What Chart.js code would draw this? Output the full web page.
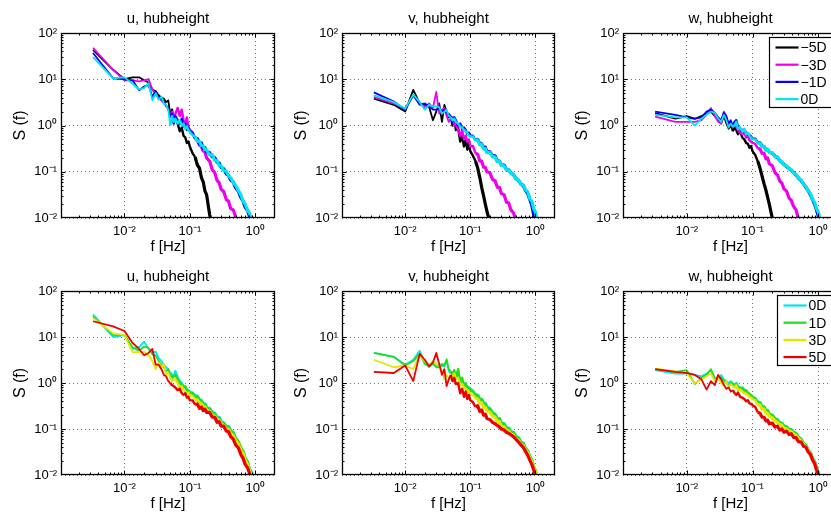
<!DOCTYPE html>
<html>
<head>
<meta charset="utf-8">
<script src="https://cdn.jsdelivr.net/npm/chart.js@4.4.0/dist/chart.umd.min.js"></script>
<style>
html, body { margin: 0; padding: 0; background: #fff; overflow: hidden; width: 831px; height: 513px; position: relative; }
canvas { position: absolute; }
</style>
</head>
<body>
<script>
// frequency axis shared by every spectrum [Hz]
const freq = [0.0033, 0.0067, 0.010, 0.0133, 0.0167, 0.020, 0.0233, 0.0267, 0.030, 0.0333, 0.0367, 0.040,
  0.0433, 0.0467, 0.050, 0.0533, 0.0567, 0.060, 0.065, 0.070, 0.075, 0.080, 0.085, 0.090, 0.095, 0.10,
  0.11, 0.12, 0.13, 0.14, 0.15, 0.16, 0.17, 0.18, 0.20, 0.22, 0.24, 0.26, 0.28, 0.30,
  0.33, 0.36, 0.39, 0.42, 0.46, 0.50, 0.55, 0.60, 0.65, 0.70, 0.76, 0.82, 0.88, 0.94, 1.0, 1.07];

const N = null;

// u, upstream
const uM5 = [43, 16, 10, 11, 11, 9.5, 8.5, 6, 5.5, 4.5, 4, 3.8,
  3.2, 3.5, 1.8, 2.2, 1.2, 1.5, 1.1, 0.75, 0.9, 0.6, 0.55, 0.42, 0.45, 0.35,
  0.25, 0.21, 0.14, 0.12, 0.075, 0.06, 0.038, 0.032, 0.012, 0.007, 0.004, N, N, N,
  N, N, N, N, N, N, N, N, N, N, N, N, N, N, N, N];
const uM3 = [48, 16, 9.5, 9.5, 9, 9.5, 10, 6, 4.5, 4, 3.5, 3,
  2.8, 2.2, 1.6, 2, 1.4, 1.8, 2.4, 1.6, 2.2, 1.3, 1.1, 1.5, 0.9, 0.8,
  0.72, 0.52, 0.47, 0.38, 0.35, 0.28, 0.27, 0.2, 0.17, 0.11, 0.095, 0.065, 0.058, 0.042,
  0.037, 0.025, 0.023, 0.016, 0.015, 0.0105, 0.0085, 0.006, N, N, N, N, N, N, N, N];
const uM1 = [37, 10.5, 10, 9.5, 5.8, 7, 7.5, 4.2, 5.5, 4, 3.8, 3.2,
  2.6, 2.4, 1.5, 1.8, 1.1, 1.6, 1.3, 1.1, 1.4, 0.95, 1.1, 0.8, 0.9, 0.75,
  0.68, 0.52, 0.52, 0.4, 0.42, 0.32, 0.33, 0.27, 0.26, 0.21, 0.2, 0.16, 0.155, 0.125,
  0.115, 0.09, 0.083, 0.066, 0.06, 0.045, 0.038, 0.028, 0.023, 0.017, 0.0145, 0.0105, 0.0105, 0.0075, N, N];
const u0a = [30, 10.5, 11, 8, 6, 6.5, 8.2, 3.5, 5, 3.6, 4.2, 3,
  2.8, 2.2, 1.0, 1.6, 1.2, 1.4, 1.1, 1.3, 1.0, 1.1, 0.85, 0.95, 0.8, 0.72,
  0.62, 0.58, 0.46, 0.45, 0.37, 0.36, 0.3, 0.3, 0.23, 0.235, 0.175, 0.175, 0.135, 0.135,
  0.105, 0.102, 0.082, 0.074, 0.058, 0.051, 0.039, 0.032, 0.023, 0.02, 0.0145, 0.0125, 0.0095, 0.008, N, N];

// v, upstream
const vM5 = [3.8, 2.8, 2.0, 5.9, 3.0, 2.8, 2.5, 1.3, 2.0, 3.0, 1.2, 2.8,
  2.0, 1.5, 1.6, 1.0, 1.4, 0.8, 0.9, 0.45, 0.6, 0.35, 0.5, 0.3, 0.45, 0.28,
  0.22, 0.17, 0.12, 0.075, 0.045, 0.03, 0.02, 0.014, 0.008, N, N, N, N, N,
  N, N, N, N, N, N, N, N, N, N, N, N, N, N, N, N];
const vM3 = [4.1, 3.0, 2.3, 4.5, 3.0, 2.5, 3.0, 2.4, 5.3, 1.8, 2.2, 2.4,
  1.6, 1.2, 1.4, 1.5, 1.0, 1.1, 0.8, 0.6, 0.8, 0.5, 0.6, 0.45, 0.5, 0.35,
  0.36, 0.25, 0.24, 0.17, 0.17, 0.125, 0.125, 0.1, 0.095, 0.068, 0.064, 0.046, 0.046, 0.034,
  0.032, 0.022, 0.021, 0.015, 0.013, 0.0092, 0.007, N, N, N, N, N, N, N, N, N];
const vM1 = [5.2, 3.3, 2.2, 4.5, 2.8, 3.0, 2.6, 2.2, 2.2, 2.4, 2.0, 2.2,
  1.9, 1.8, 1.6, 1.2, 1.5, 1.3, 1.0, 1.1, 0.85, 0.9, 0.8, 0.65, 0.7, 0.6,
  0.6, 0.48, 0.5, 0.4, 0.4, 0.33, 0.34, 0.27, 0.27, 0.22, 0.22, 0.17, 0.17, 0.14,
  0.14, 0.11, 0.11, 0.094, 0.087, 0.072, 0.065, 0.054, 0.05, 0.04, 0.034, 0.025, 0.019, 0.012, 0.008, N];
const v0a = [4.5, 3.2, 2.3, 4.7, 3.2, 2.2, 2.8, 2.6, 2.6, 2.5, 1.8, 2.0,
  2.2, 1.6, 1.5, 1.3, 1.4, 1.2, 1.1, 0.95, 0.9, 0.8, 0.75, 0.7, 0.6, 0.58,
  0.58, 0.47, 0.49, 0.38, 0.39, 0.31, 0.32, 0.26, 0.26, 0.21, 0.21, 0.165, 0.17, 0.14,
  0.135, 0.11, 0.11, 0.092, 0.088, 0.07, 0.067, 0.053, 0.052, 0.041, 0.037, 0.026, 0.023, 0.016, 0.0135, 0.009];

// w, upstream
const wM5 = [1.85, 1.4, 1.6, 1.4, 1.6, 1.8, 2.0, 1.6, 1.3, 1.1, 1.6, 1.1,
  0.85, 1.0, 0.75, 0.9, 0.8, 0.65, 0.75, 0.55, 0.5, 0.42, 0.4, 0.33, 0.36, 0.28,
  0.23, 0.17, 0.12, 0.08, 0.055, 0.04, 0.028, 0.02, 0.01, 0.006, N, N, N, N,
  N, N, N, N, N, N, N, N, N, N, N, N, N, N, N, N];
const wM3 = [1.55, 1.2, 1.2, 1.2, 1.3, 1.7, 2.4, 1.6, 1.2, 1.1, 2.0, 1.5,
  1.0, 1.2, 0.9, 1.1, 0.95, 0.8, 0.7, 0.65, 0.7, 0.55, 0.6, 0.48, 0.45, 0.42,
  0.4, 0.32, 0.31, 0.25, 0.25, 0.19, 0.2, 0.15, 0.135, 0.095, 0.085, 0.063, 0.057, 0.043,
  0.038, 0.027, 0.024, 0.018, 0.015, 0.0095, 0.007, N, N, N, N, N, N, N, N, N];
const wM1 = [2.0, 1.7, 1.5, 1.4, 1.5, 2.0, 2.2, 1.9, 1.5, 1.3, 1.9, 1.6,
  1.1, 1.3, 1.0, 1.2, 1.3, 0.95, 0.85, 0.8, 0.8, 0.7, 0.65, 0.62, 0.58, 0.52,
  0.52, 0.43, 0.42, 0.36, 0.35, 0.3, 0.3, 0.27, 0.25, 0.22, 0.2, 0.175, 0.16, 0.145,
  0.13, 0.118, 0.108, 0.097, 0.085, 0.073, 0.064, 0.054, 0.046, 0.039, 0.032, 0.025, 0.02, 0.015, 0.011, 0.008];
const w0a = [1.7, 1.5, 1.5, 1.0, 1.4, 1.7, 2.0, 1.9, 1.4, 1.2, 1.7, 1.3,
  0.9, 1.1, 0.95, 1.0, 1.2, 0.85, 0.9, 0.75, 0.85, 0.65, 0.7, 0.6, 0.55, 0.5,
  0.5, 0.42, 0.41, 0.35, 0.35, 0.29, 0.31, 0.26, 0.26, 0.21, 0.21, 0.17, 0.165, 0.14,
  0.135, 0.115, 0.112, 0.095, 0.088, 0.071, 0.067, 0.052, 0.049, 0.038, 0.034, 0.025, 0.022, 0.016, 0.0135, 0.0095];

// u, downstream
const u0b = [31, 10, 11, 5.5, 6, 7.9, 5.5, 4.5, 4.8, 3.5, 3.0, 2.5,
  2.2, 2.0, 1.7, 1.5, 1.4, 1.8, 1.3, 1.1, 1.0, 0.85, 0.8, 0.72, 0.7, 0.65,
  0.62, 0.53, 0.52, 0.43, 0.42, 0.35, 0.35, 0.29, 0.28, 0.23, 0.22, 0.18, 0.18, 0.145,
  0.135, 0.115, 0.113, 0.092, 0.083, 0.063, 0.052, 0.039, 0.032, 0.023, 0.019, 0.013, 0.0115, 0.0082, N, N];
const uP1 = [28, 11, 11, 6, 5, 6.2, 5.8, 4.2, 4.0, 3.0, 2.5, 2.2,
  1.8, 2.0, 1.5, 1.3, 1.4, 1.5, 1.2, 1.0, 0.9, 0.8, 0.85, 0.7, 0.65, 0.6,
  0.6, 0.5, 0.5, 0.42, 0.4, 0.34, 0.34, 0.28, 0.27, 0.22, 0.21, 0.17, 0.17, 0.14,
  0.13, 0.11, 0.11, 0.09, 0.082, 0.062, 0.053, 0.038, 0.032, 0.022, 0.019, 0.0125, 0.011, 0.008, N, N];
const uP3 = [26, 12, 11, 4.7, 4.7, 4.8, 4.0, 3.0, 2.0, 2.8, 2.2, 2.6,
  1.5, 1.7, 1.3, 1.1, 1.2, 1.2, 1.0, 0.8, 0.85, 0.7, 0.65, 0.6, 0.62, 0.52,
  0.52, 0.44, 0.43, 0.37, 0.35, 0.31, 0.3, 0.26, 0.24, 0.2, 0.19, 0.16, 0.155, 0.13,
  0.12, 0.1, 0.098, 0.08, 0.072, 0.056, 0.047, 0.035, 0.029, 0.021, 0.017, 0.012, 0.0095, 0.0075, N, N];
const uP5 = [22, 17, 13.5, 7.4, 5.5, 4.0, 4.5, 5.5, 2.5, 2.5, 2.0, 1.5,
  1.4, 1.1, 1.0, 0.9, 0.85, 0.8, 0.7, 0.75, 0.6, 0.55, 0.6, 0.48, 0.5, 0.42,
  0.42, 0.34, 0.35, 0.28, 0.3, 0.25, 0.27, 0.23, 0.23, 0.18, 0.18, 0.14, 0.145, 0.115,
  0.115, 0.09, 0.088, 0.068, 0.06, 0.045, 0.039, 0.028, 0.023, 0.017, 0.0145, 0.0105, 0.0088, N, N, N];

// v, downstream
const v0b = [4.5, 3.7, 2.5, 3.2, 5.0, 2.8, 2.2, 2.6, 2.3, 2.5, 2.3, 2.6,
  3.0, 1.8, 1.6, 1.7, 1.5, 1.4, 1.5, 1.1, 1.0, 0.95, 0.9, 0.85, 0.78, 0.75,
  0.68, 0.56, 0.54, 0.44, 0.44, 0.36, 0.36, 0.3, 0.28, 0.22, 0.21, 0.17, 0.17, 0.135,
  0.13, 0.105, 0.105, 0.088, 0.085, 0.069, 0.064, 0.052, 0.049, 0.039, 0.034, 0.025, 0.021, 0.015, 0.0125, 0.009];
const vP1 = [4.5, 3.7, 2.4, 3.0, 4.3, 2.6, 2.3, 2.7, 2.2, 2.2, 2.6, 2.3,
  3.3, 2.0, 1.8, 1.5, 1.9, 1.3, 2.0, 1.1, 1.3, 0.85, 1.0, 0.7, 0.8, 0.7,
  0.66, 0.55, 0.53, 0.43, 0.43, 0.35, 0.35, 0.29, 0.27, 0.22, 0.205, 0.165, 0.165, 0.13,
  0.128, 0.102, 0.102, 0.086, 0.083, 0.067, 0.063, 0.051, 0.048, 0.038, 0.033, 0.025, 0.021, 0.015, 0.0125, 0.009];
const vP3 = [3.2, 2.2, 2.4, 2.0, 4.0, 3.0, 2.5, 3.0, 2.6, 2.4, 1.8, 1.2,
  1.5, 1.3, 1.2, 1.4, 1.6, 1.2, 1.3, 0.9, 0.95, 0.8, 0.75, 0.7, 0.65, 0.6,
  0.55, 0.46, 0.45, 0.37, 0.37, 0.3, 0.3, 0.25, 0.23, 0.19, 0.18, 0.145, 0.145, 0.115,
  0.112, 0.092, 0.09, 0.078, 0.074, 0.062, 0.057, 0.047, 0.044, 0.035, 0.031, 0.023, 0.02, 0.0145, 0.012, 0.0085];
const vP5 = [1.75, 1.65, 2.4, 1.1, 4.3, 3.2, 2.3, 2.8, 4.5, 2.6, 1.5, 2.0,
  0.86, 1.2, 1.5, 1.1, 1.3, 0.95, 1.0, 0.6, 0.75, 0.5, 0.65, 0.45, 0.55, 0.42,
  0.38, 0.3, 0.32, 0.24, 0.26, 0.2, 0.21, 0.17, 0.16, 0.14, 0.13, 0.12, 0.11, 0.1,
  0.095, 0.085, 0.08, 0.075, 0.068, 0.06, 0.052, 0.045, 0.04, 0.033, 0.027, 0.021, 0.017, 0.013, 0.0095, 0.007];

// w, downstream
const w0b = [1.9, 1.6, 1.6, 1.5, 1.4, 1.6, 1.9, 1.3, 1.2, 1.5, 1.2, 1.1,
  1.0, 1.1, 0.95, 0.9, 1.0, 0.85, 0.8, 0.75, 0.72, 0.65, 0.62, 0.58, 0.55, 0.5,
  0.47, 0.39, 0.37, 0.31, 0.3, 0.25, 0.25, 0.21, 0.2, 0.165, 0.16, 0.135, 0.135, 0.115,
  0.112, 0.098, 0.097, 0.085, 0.08, 0.066, 0.06, 0.048, 0.044, 0.035, 0.031, 0.023, 0.02, 0.014, 0.0115, 0.0078];
const wP1 = [2.0, 1.75, 1.9, 0.95, 1.3, 1.5, 2.0, 1.2, 1.3, 1.3, 1.1, 1.0,
  0.9, 1.0, 1.0, 0.85, 0.95, 0.8, 0.75, 0.8, 0.68, 0.7, 0.6, 0.58, 0.52, 0.5,
  0.46, 0.38, 0.37, 0.3, 0.3, 0.25, 0.245, 0.21, 0.195, 0.165, 0.155, 0.135, 0.13, 0.115,
  0.11, 0.097, 0.095, 0.084, 0.078, 0.066, 0.059, 0.048, 0.043, 0.035, 0.03, 0.023, 0.019, 0.014, 0.011, 0.0078];
const wP3 = [2.05, 1.8, 1.6, 1.0, 1.2, 1.4, 1.6, 1.1, 1.3, 1.0, 0.9, 1.1,
  0.8, 0.95, 0.85, 0.8, 0.9, 0.7, 0.72, 0.65, 0.6, 0.58, 0.55, 0.5, 0.48, 0.45,
  0.42, 0.34, 0.33, 0.27, 0.27, 0.22, 0.22, 0.19, 0.175, 0.15, 0.14, 0.125, 0.12, 0.105,
  0.1, 0.09, 0.087, 0.078, 0.072, 0.062, 0.055, 0.046, 0.041, 0.034, 0.029, 0.022, 0.018, 0.0135, 0.0105, 0.0075];
const wP5 = [2.0, 1.75, 1.65, 1.5, 1.2, 0.72, 1.1, 0.9, 1.5, 1.2, 0.9, 0.75,
  0.8, 0.65, 0.7, 0.6, 0.55, 0.62, 0.5, 0.48, 0.45, 0.4, 0.42, 0.36, 0.35, 0.33,
  0.3, 0.23, 0.22, 0.18, 0.18, 0.15, 0.155, 0.13, 0.135, 0.11, 0.115, 0.095, 0.1, 0.085,
  0.09, 0.076, 0.079, 0.066, 0.065, 0.053, 0.052, 0.042, 0.04, 0.032, 0.028, 0.021, 0.018, 0.013, 0.0105, 0.0072];

const upNames = ['\u22125D', '\u22123D', '\u22121D', '0D'];
const downNames = ['0D', '1D', '3D', '5D'];
const upColors = ['#000000', '#ee00ee', '#0000ff', '#00e5ee'];
const downColors = ['#00e5ee', '#22dd22', '#e5e500', '#ee0000'];
const xTicks = [0.01, 0.1, 1];
const yTicks = [0.01, 0.1, 1, 10, 100];
const supers = { '-2': '\u207B\u00B2', '-1': '\u207B\u00B9', '0': '\u2070', '1': '\u00B9', '2': '\u00B2' };

// plot-area placement of each column / row (px)
const colX = [61, 342, 623], colW = [214, 213, 215];
const rowY = [33, 291], rowH = [185, 184];

const panels = [
  { col: 0, row: 0, title: 'u, hubheight', names: upNames, colors: upColors, series: [uM5, uM3, uM1, u0a] },
  { col: 1, row: 0, title: 'v, hubheight', names: upNames, colors: upColors, series: [vM5, vM3, vM1, v0a] },
  { col: 2, row: 0, title: 'w, hubheight', names: upNames, colors: upColors, series: [wM5, wM3, wM1, w0a], legend: true },
  { col: 0, row: 1, title: 'u, hubheight', names: downNames, colors: downColors, series: [u0b, uP1, uP3, uP5] },
  { col: 1, row: 1, title: 'v, hubheight', names: downNames, colors: downColors, series: [v0b, vP1, vP3, vP5] },
  { col: 2, row: 1, title: 'w, hubheight', names: downNames, colors: downColors, series: [w0b, wP1, wP3, wP5], legend: true }
];

const FONT = '"Liberation Sans", Arial, Helvetica, sans-serif';
Chart.defaults.font.family = FONT;
Chart.defaults.color = '#000';

function tickLabel(v) {
  return '10' + supers[String(Math.round(Math.log10(v)))];
}

// the spectra get noisy (visually thicker) at high frequency
function segWidth(c) {
  const f = c.p0.parsed.x;
  if (f < 0.05) return 1.8;
  if (f < 0.12) return 2.4;
  return 3.2;
}

// axes box, inward ticks, panel title and legend box
const framePlugin = {
  id: 'frame',
  afterDraw(chart, args, o) {
    const { ctx, chartArea: a } = chart;
    const xs = chart.scales.x, ys = chart.scales.y;
    const L = Math.round(a.left) + 0.5, R = Math.round(a.right) - 0.5;
    const T = Math.round(a.top) + 0.5, B = Math.round(a.bottom) - 0.5;
    ctx.save();
    ctx.strokeStyle = '#000';
    ctx.lineWidth = 1;
    ctx.beginPath();
    for (let d = -3; d <= 0; d++) {
      for (let m = 1; m <= 9; m++) {
        const v = m * Math.pow(10, d);
        if (v <= xs.min || v >= xs.max) continue;
        const px = Math.round(xs.getPixelForValue(v)) + 0.5;
        const len = m === 1 ? 4 : 2;
        ctx.moveTo(px, B); ctx.lineTo(px, B - len);
        ctx.moveTo(px, T); ctx.lineTo(px, T + len);
      }
    }
    for (let d = -2; d <= 1; d++) {
      for (let m = 1; m <= 9; m++) {
        const v = m * Math.pow(10, d);
        if (v <= ys.min || v >= ys.max) continue;
        const py = Math.round(ys.getPixelForValue(v)) + 0.5;
        const len = m === 1 ? 4 : 2;
        ctx.moveTo(L, py); ctx.lineTo(L + len, py);
        ctx.moveTo(R, py); ctx.lineTo(R - len, py);
      }
    }
    ctx.stroke();
    ctx.lineWidth = 1.3;
    ctx.strokeRect(L, T, R - L, B - T);

    ctx.fillStyle = '#000';
    ctx.font = '15px ' + FONT;
    ctx.textAlign = 'center';
    ctx.textBaseline = 'alphabetic';
    ctx.fillText(o.title, (a.left + a.right) / 2, a.top - 10);

    if (o.legend) {
      ctx.font = '14px ' + FONT;
      const ds = chart.data.datasets;
      const tw = Math.max(...ds.map(d => ctx.measureText(d.label).width));
      const bw = 32 + tw + 6, bh = 70;
      const bx = Math.round(a.right - 5 - bw) + 0.5, by = Math.round(a.top + 4) + 0.5;
      ctx.fillStyle = '#fff';
      ctx.fillRect(bx, by, bw, bh);
      ctx.strokeStyle = '#000';
      ctx.lineWidth = 1.2;
      ctx.strokeRect(bx, by, bw, bh);
      ctx.textAlign = 'left';
      ctx.textBaseline = 'middle';
      ds.forEach((d, i) => {
        const ry = by + 10 + 17.2 * i;
        ctx.strokeStyle = d.borderColor;
        ctx.lineWidth = 2.2;
        ctx.beginPath();
        ctx.moveTo(bx + 6, ry); ctx.lineTo(bx + 29, ry);
        ctx.stroke();
        ctx.fillStyle = '#000';
        ctx.fillText(d.label, bx + 31, ry + 1);
      });
    }
    ctx.restore();
  }
};

function makePanel(p) {
  const ax = colX[p.col], aw = colW[p.col], ay = rowY[p.row], ah = rowH[p.row];
  const W = aw + 67, H = ah + 33 + 42;
  const cv = document.createElement('canvas');
  cv.width = W; cv.height = H;
  cv.style.left = (ax - 62) + 'px';
  cv.style.top = (ay - 33) + 'px';
  cv.style.width = W + 'px';
  cv.style.height = H + 'px';
  document.body.appendChild(cv);

  const gridStyle = { color: 'rgba(0,0,0,0.55)', lineWidth: 1, drawTicks: false };
  new Chart(cv.getContext('2d'), {
    type: 'line',
    data: {
      datasets: p.series.map((s, i) => ({
        label: p.names[i],
        data: s.map((v, k) => ({ x: freq[k], y: v })),
        borderColor: p.colors[i],
        borderWidth: 1.8,
        segment: { borderWidth: segWidth },
        borderJoinStyle: 'round',
        pointRadius: 0,
        tension: 0,
        fill: false,
        clip: 0,
        order: p.series.length - 1 - i
      }))
    },
    options: {
      responsive: false,
      animation: false,
      devicePixelRatio: 1,
      layout: { padding: { left: 2, top: 33, right: 5, bottom: 0 } },
      plugins: {
        legend: { display: false },
        tooltip: { enabled: false },
        frame: { title: p.title, legend: !!p.legend }
      },
      scales: {
        x: {
          type: 'logarithmic',
          min: 0.00107,
          max: 2,
          afterBuildTicks: s => { s.ticks = xTicks.map(v => ({ value: v })); },
          afterFit: s => { s.height = 42; },
          grid: gridStyle,
          border: { display: false, dash: [1, 3] },
          ticks: { autoSkip: false, maxRotation: 0, padding: 6, font: { size: 13 }, callback: v => tickLabel(v) },
          title: { display: true, text: 'f [Hz]', font: { size: 15 }, padding: { top: 0, bottom: 4 } }
        },
        y: {
          type: 'logarithmic',
          min: 0.01,
          max: 100,
          afterBuildTicks: s => { s.ticks = yTicks.map(v => ({ value: v })); },
          afterFit: s => { s.width = 60; },
          grid: gridStyle,
          border: { display: false, dash: [1, 3] },
          ticks: { autoSkip: false, padding: 4, font: { size: 13 }, callback: v => tickLabel(v) },
          title: { display: true, text: 'S (f)', font: { size: 16 }, padding: { top: 10, bottom: 0 } }
        }
      }
    },
    plugins: [framePlugin]
  });
}

panels.forEach(makePanel);
</script>
</body>
</html>
